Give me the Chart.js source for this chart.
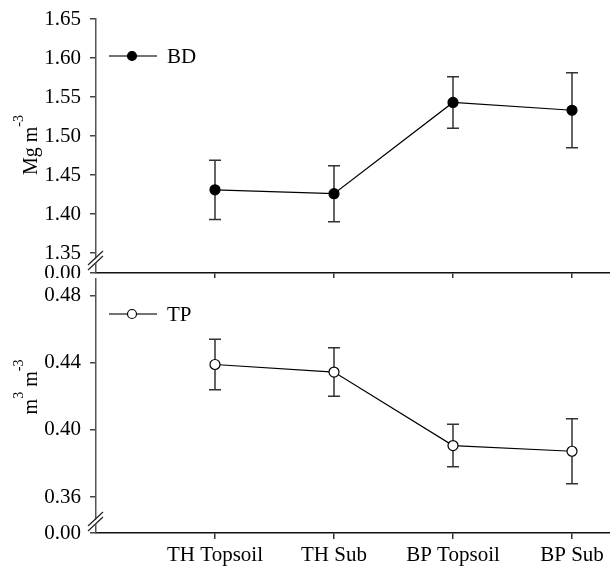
<!DOCTYPE html>
<html>
<head>
<meta charset="utf-8">
<script src="https://cdn.jsdelivr.net/npm/chart.js@4.4.1/dist/chart.umd.min.js"></script>
<style>
 html,body{margin:0;padding:0;background:#fff;}
 #wrap{position:relative;width:610px;height:573px;}
 .pane{position:absolute;left:0;width:610px;}
</style>
</head>
<body>
<div id="wrap">
 <div class="pane" style="top:0;height:278px"><canvas id="bdChart"></canvas></div>
 <div class="pane" style="top:276px;height:297px"><canvas id="tpChart"></canvas></div>
</div>
<script>
const categories=["TH Topsoil","TH Sub","BP Topsoil","BP Sub"];

const bdMean=[1.431,1.426,1.543,1.533];
const bdErr=[0.038,0.036,0.033,0.048];
const bdTicks=[1.35,1.40,1.45,1.50,1.55,1.60,1.65];

const tpMean=[0.439,0.4345,0.3907,0.3873];
const tpErr=[0.015,0.0145,0.0127,0.0193];
const tpTicks=[0.36,0.40,0.44,0.48];

const FONT="'Liberation Serif','Times New Roman',serif";

// error bars drawn under the points
const errorBars={
 id:"errorBars",
 beforeDatasetsDraw(chart,args,opts){
   const ctx=chart.ctx,xs=chart.scales.x,ys=chart.scales.y;
   ctx.save();
   ctx.strokeStyle="#333";
   ctx.lineWidth=1.5;
   opts.mean.forEach((m,i)=>{
     const x=xs.getPixelForValue(i+1);
     const t=ys.getPixelForValue(m+opts.err[i]);
     const b=ys.getPixelForValue(m-opts.err[i]);
     ctx.beginPath();
     ctx.moveTo(x,t);ctx.lineTo(x,b);
     ctx.moveTo(x-6,t);ctx.lineTo(x+6,t);
     ctx.moveTo(x-6,b);ctx.lineTo(x+6,b);
     ctx.stroke();
   });
   ctx.restore();
 }
};

// legend, axis title with superscripts, axis break marks
const decor={
 id:"decor",
 afterDraw(chart,args,opts){
   const ctx=chart.ctx,a=chart.chartArea;
   const ds=chart.data.datasets[0];
   ctx.save();
   // legend
   const ly=opts.legendY;
   ctx.strokeStyle="#444";ctx.lineWidth=1.5;
   ctx.beginPath();ctx.moveTo(a.left+13,ly);ctx.lineTo(a.left+61,ly);ctx.stroke();
   ctx.beginPath();ctx.arc(a.left+36,ly,4.5,0,Math.PI*2);
   ctx.fillStyle=ds.pointBackgroundColor;ctx.fill();
   ctx.strokeStyle="#000";ctx.lineWidth=1.2;ctx.stroke();
   ctx.fillStyle="#000";
   ctx.font="21px "+FONT;
   ctx.textBaseline="middle";
   ctx.fillText(ds.label,a.left+71,ly+1);
   // y title
   ctx.translate(37,opts.titleY);
   ctx.rotate(-Math.PI/2);
   ctx.textBaseline="alphabetic";
   let w=0;
   opts.title.forEach(s=>{ctx.font=(s[1]?"14px ":"20px ")+FONT;w+=ctx.measureText(s[0]).width;});
   let x=-w/2;
   opts.title.forEach(s=>{
     ctx.font=(s[1]?"14px ":"20px ")+FONT;
     ctx.fillText(s[0],x,s[1]?-14:0);
     x+=ctx.measureText(s[0]).width;
   });
   ctx.setTransform(1,0,0,1,0,0);
   // break marks on y axis
   const by=a.bottom-opts.breakGap;
   ctx.fillStyle="#fff";
   ctx.beginPath();
   ctx.moveTo(a.left-7,by+7);ctx.lineTo(a.left+7,by-6);
   ctx.lineTo(a.left+7,by-1);ctx.lineTo(a.left-7,by+12);
   ctx.closePath();ctx.fill();
   ctx.strokeStyle="#222";ctx.lineWidth=1.2;
   ctx.beginPath();
   ctx.moveTo(a.left-8,by+7);ctx.lineTo(a.left+7,by-7);
   ctx.moveTo(a.left-8,by+12);ctx.lineTo(a.left+7,by-2);
   ctx.stroke();
   ctx.restore();
 }
};

function makeChart(id,mean,err,ticks,yMin,yMax,opt){
 return new Chart(document.getElementById(id),{
   type:"line",
   data:{
     datasets:[{
       label:opt.label,
       data:mean.map((v,i)=>({x:i+1,y:v})),
       borderColor:"#000",
       borderWidth:1.2,
       pointRadius:5,
       pointHoverRadius:5,
       pointBackgroundColor:opt.fill,
       pointBorderColor:"#000",
       pointBorderWidth:1.2,
       tension:0
     }]
   },
   options:{
     responsive:true,
     maintainAspectRatio:false,
     animation:false,
     events:[],
     layout:{autoPadding:false,padding:{top:opt.padTop,left:0,right:0,bottom:0}},
     plugins:{
       legend:{display:false},
       tooltip:{enabled:false},
       errorBars:{mean:mean,err:err},
       decor:{legendY:opt.legendY,titleY:opt.titleY,title:opt.title,breakGap:opt.breakGap}
     },
     scales:{
       x:{
         type:"linear",
         min:0,
         max:(610-96)/119,
         afterBuildTicks:s=>{s.ticks=categories.map((c,i)=>({value:i+1}));},
         afterFit:s=>{s.height=opt.xHeight;s.paddingLeft=0;s.paddingRight=0;},
         ticks:{
           display:opt.showX,
           autoSkip:false,
           maxRotation:0,
           padding:4,
           color:"#000",
           font:{family:FONT,size:21},
           callback:v=>categories[v-1]
         },
         grid:{display:true,drawOnChartArea:false,drawTicks:true,tickLength:6,color:"#333",lineWidth:1.5},
         border:{display:true,color:"#111",width:1.5}
       },
       y:{
         type:"linear",
         min:yMin,
         max:yMax,
         afterBuildTicks:s=>{s.ticks=[yMin].concat(ticks).map(v=>({value:v}));},
         afterFit:s=>{s.width=96;s.paddingTop=0;s.paddingBottom=0;},
         ticks:{
           padding:9,
           color:"#000",
           font:{family:FONT,size:21},
           callback:v=>v===yMin?"0.00":v.toFixed(2)
         },
         grid:{display:true,drawOnChartArea:false,drawTicks:true,tickLength:6,color:"#444",lineWidth:1.5},
         border:{display:true,color:"#555",width:1.5}
       }
     }
   },
   plugins:[errorBars,decor]
 });
}

makeChart("bdChart",bdMean,bdErr,bdTicks,1.35-20/39*0.05,1.65,{
 label:"BD",fill:"#000",padTop:19,xHeight:5,showX:false,
 legendY:56,titleY:145,breakGap:15,
 title:[["Mg m",false],["-3",true]]
});

makeChart("tpChart",tpMean,tpErr,tpTicks,0.36-36/67.3*0.04,0.48+16.7/67.3*0.04,{
 label:"TP",fill:"#fff",padTop:3,xHeight:40,showX:true,
 legendY:38,titleY:111,breakGap:14,
 title:[["m",false],["3",true],[" m",false],["-3",true]]
});
</script>
</body>
</html>
